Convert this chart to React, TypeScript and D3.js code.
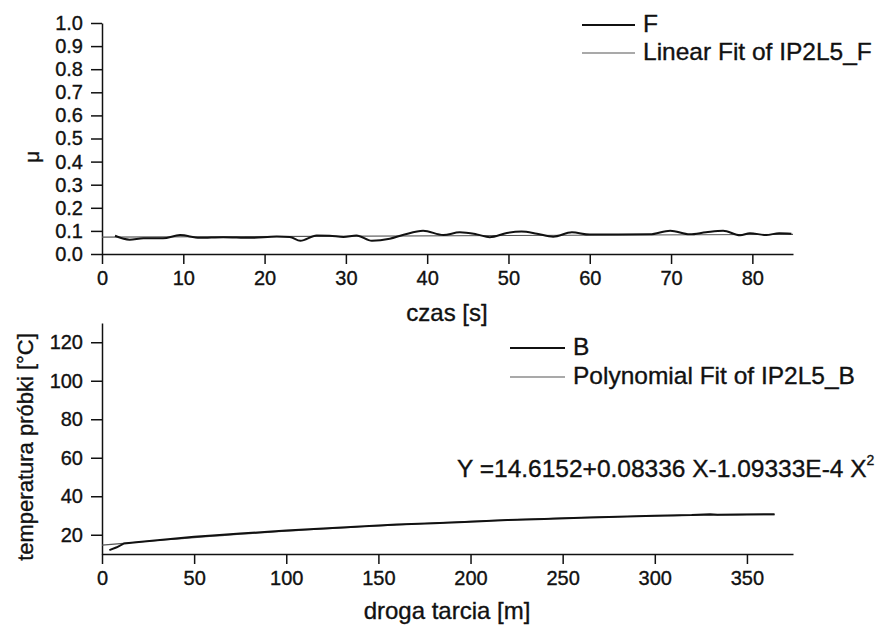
import React, { useEffect, useRef } from 'react';
import * as d3 from 'd3';

// top panel: friction coefficient vs time
const fTime = [1.6, 3.4, 5.1, 7.5, 9.6, 12, 14.9, 18.2, 21.5, 23.1, 24.4, 26.4, 28, 29.7, 31.3, 33.2, 35.4, 37.1, 39.5, 42, 44, 46.1, 47.7, 49.8, 51.6, 53.5, 55.5, 57.8, 60, 63.3, 67.4, 69.9, 72.3, 74.3, 76.4, 78.5, 79.7, 81.7, 83.3, 84.8];
const fMu = [0.079, 0.062, 0.068, 0.068, 0.082, 0.07, 0.073, 0.07, 0.076, 0.074, 0.057, 0.08, 0.079, 0.074, 0.08, 0.057, 0.066, 0.083, 0.101, 0.082, 0.094, 0.085, 0.073, 0.091, 0.097, 0.088, 0.075, 0.094, 0.084, 0.084, 0.085, 0.101, 0.085, 0.094, 0.101, 0.081, 0.09, 0.082, 0.09, 0.088];
const fitFTime = [0, 85];
const fitFMu = [0.073, 0.085];
const muTicks = [0, 0.1, 0.2, 0.3, 0.4, 0.5, 0.6, 0.7, 0.8, 0.9, 1.0];
const timeTicks = [0, 10, 20, 30, 40, 50, 60, 70, 80];

// bottom panel: sample temperature vs sliding distance
const bDist = [4, 8, 12, 20, 30, 40, 50, 60, 75, 90, 100, 120, 140, 160, 180, 200, 220, 240, 260, 280, 300, 320, 330, 334, 345, 365];
const bTemp = [12, 13.5, 15.5, 16.2, 17.2, 18, 18.9, 19.6, 20.6, 21.5, 22.2, 23.3, 24.3, 25.3, 26, 26.8, 27.6, 28.2, 28.8, 29.3, 29.9, 30.2, 30.6, 30.4, 30.5, 30.7];
const polyCoef = [14.6152, 0.08336, -1.09333e-4];
const tempTicks = [20, 40, 60, 80, 100, 120];
const distTicks = [0, 50, 100, 150, 200, 250, 300, 350];

const FONT = '"Liberation Sans", Arial, Helvetica, sans-serif';
const INK = '#111';

function App() {
  const ref = useRef<SVGSVGElement>(null);

  useEffect(() => {
    const svg = d3.select(ref.current);
    svg.selectAll('*').remove();
    svg.append('rect').attr('width', 884).attr('height', 628).attr('fill', '#fff');

    const xTop = d3.scaleLinear().domain([0, 85]).range([102, 793]);
    const yTop = d3.scaleLinear().domain([0, 1]).range([254, 23]);
    const xBot = d3.scaleLinear().domain([0, 375]).range([102, 793]);
    const yBot = d3.scaleLinear().domain([10, 130]).range([554, 323]);

    function axes(x, y, xMajor, xMinor, yMajor, yMinor, yFmt) {
      const [y0] = y.range();
      const [x0] = x.range();
      const gx = svg.append('g').attr('transform', `translate(0,${y0})`);
      gx.call(d3.axisBottom(x).tickValues(xMinor).tickSize(5).tickFormat(() => '').tickSizeOuter(0));
      gx.call(d3.axisBottom(x).tickValues(xMajor).tickSize(10).tickPadding(7).tickSizeOuter(0));
      const gy = svg.append('g').attr('transform', `translate(${x0},0)`);
      gy.call(d3.axisLeft(y).tickValues(yMinor).tickSize(5).tickFormat(() => '').tickSizeOuter(0));
      gy.call(d3.axisLeft(y).tickValues(yMajor).tickSize(11).tickPadding(8).tickFormat(yFmt).tickSizeOuter(0));
      [gx, gy].forEach(g => {
        g.selectAll('path, line').attr('stroke', INK).attr('stroke-width', 1.5);
        g.selectAll('text').attr('fill', INK).attr('stroke', INK).attr('stroke-width', 0.35)
          .style('font-family', FONT).style('font-size', '20px');
      });
    }

    axes(xTop, yTop, timeTicks, d3.range(5, 86, 10), muTicks, d3.range(0.05, 1, 0.1), d3.format('.1f'));
    axes(xBot, yBot, distTicks, d3.range(25, 376, 50), tempTicks, d3.range(10, 131, 20), d3.format('d'));

    // top series
    const fitF = fitFTime.map((t, i) => [t, fitFMu[i]]);
    svg.append('path')
      .attr('d', d3.line().x(d => xTop(d[0])).y(d => yTop(d[1]))(fitF))
      .attr('fill', 'none').attr('stroke', '#555').attr('stroke-width', 1.2);
    const fData = fTime.map((t, i) => [t, fMu[i]]);
    svg.append('path')
      .attr('d', d3.line().curve(d3.curveMonotoneX).x(d => xTop(d[0])).y(d => yTop(d[1]))(fData))
      .attr('fill', 'none').attr('stroke', INK).attr('stroke-width', 2);

    // bottom series
    const poly = x => polyCoef[0] + polyCoef[1] * x + polyCoef[2] * x * x;
    const fitB = d3.range(0, 366, 5).map(x => [x, poly(x)]);
    svg.append('path')
      .attr('d', d3.line().x(d => xBot(d[0])).y(d => yBot(d[1]))(fitB))
      .attr('fill', 'none').attr('stroke', '#555').attr('stroke-width', 1.2);
    const bData = bDist.map((x, i) => [x, bTemp[i]]);
    svg.append('path')
      .attr('d', d3.line().x(d => xBot(d[0])).y(d => yBot(d[1]))(bData))
      .attr('fill', 'none').attr('stroke', INK).attr('stroke-width', 2);

    const text = (x, y, s, size, anchor = 'start', rotate = 0) =>
      svg.append('text')
        .attr('transform', `translate(${x},${y}) rotate(${rotate})`)
        .attr('text-anchor', anchor)
        .attr('dominant-baseline', 'middle')
        .attr('fill', INK)
        .attr('stroke', INK)
        .attr('stroke-width', 0.35)
        .style('font-family', FONT)
        .style('font-size', `${size}px`)
        .text(s);

    // axis titles
    text(33, 157, 'μ', 21, 'middle', -90);
    text(447, 315, 'czas [s]', 24, 'middle');
    text(27, 447, 'temperatura próbki [°C]', 22, 'middle', -90);
    text(447, 613, 'droga tarcia [m]', 24, 'middle');

    // legends
    const legend = (x1, x2, y, label, color, w) => {
      svg.append('line').attr('x1', x1).attr('x2', x2).attr('y1', y).attr('y2', y)
        .attr('stroke', color).attr('stroke-width', w);
      text(x2 + 8, y + 1, label, 24.5);
    };
    legend(582, 635, 25, 'F', INK, 1.8);
    legend(582, 635, 53, 'Linear Fit of IP2L5_F', '#555', 1.2);
    legend(510, 565, 348, 'B', INK, 1.8);
    legend(510, 565, 377, 'Polynomial Fit of IP2L5_B', '#555', 1.2);

    // fit equation
    const eq = text(457, 471, 'Y =14.6152+0.08336 X-1.09333E-4 X', 24.5);
    eq.append('tspan').attr('dy', -10).style('font-size', '14px').text('2');
  }, []);

  return (
    <svg ref={ref} width={884} height={628}
      style={{ position: 'absolute', left: 0, top: 0, display: 'block' }} />
  );
}

export default App;
